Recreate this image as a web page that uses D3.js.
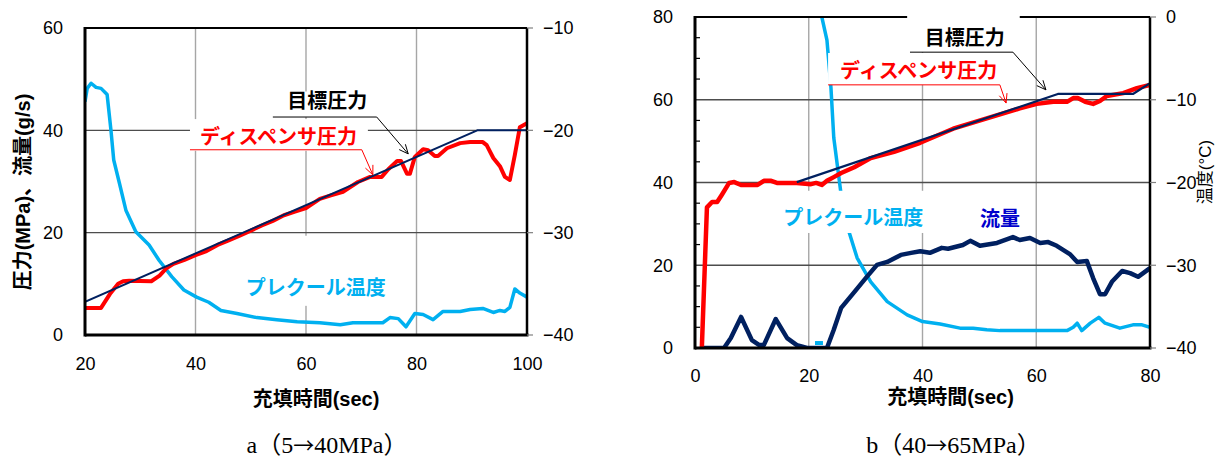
<!DOCTYPE html>
<html><head><meta charset="utf-8">
<script src="https://cdn.jsdelivr.net/npm/d3@7"></script>
<style>
html,body{margin:0;padding:0;background:#fff;}
svg{display:block;font-family:"Liberation Sans","Noto Sans CJK JP",sans-serif;}
</style></head>
<body>
<svg id="chart" width="1223" height="461"></svg>
<script>
// ---------------- DATA ----------------
// Chart a (5→40MPa)
const xTicksA = [20, 40, 60, 80, 100];
const yTicksA = [0, 20, 40, 60];
const tTicksA = [-40, -30, -20, -10];
const targetA = [[20,6.5],[91,40],[100,40]];
const dispenserA = [[20,5.3],[22.9,5.3],[24.5,8],[26,10],[26.9,10.5],[28,10.6],[32,10.5],[33.5,11.6],[34.8,13.1],[36,13.9],[38,14.7],[40,15.6],[42,16.4],[44,17.6],[46,18.5],[48,19.4],[50,20.4],[52,21.4],[54,22.3],[56,23.4],[58,24.1],[60,24.8],[62.5,26.6],[64.5,27.3],[66.7,28],[69.4,29.9],[71.6,30.9],[73.7,30.9],[74.9,32.4],[76.5,34],[77.2,34],[78.3,31.5],[78.8,31.5],[79.7,34.8],[81.2,36.3],[82.1,36.1],[83.3,35],[83.9,35],[85.5,36.5],[87.9,37.5],[89.7,37.7],[92,37.7],[92.7,37.1],[93.9,34.6],[95.1,33],[96,30.9],[96.9,30.3],[97.8,35.2],[98.7,40.6],[100,41.4]];
const tempA = [[20,-17.2],[20.4,-15.9],[21.1,-15.4],[22,-15.8],[22.9,-15.9],[24,-16.5],[24.7,-20],[25.2,-22.9],[26.2,-25.1],[27.4,-27.8],[29.2,-29.9],[31.6,-31.2],[33.4,-32.7],[35.7,-34.3],[37.9,-35.6],[40.2,-36.3],[42.4,-36.8],[44.6,-37.6],[47.5,-37.9],[51.1,-38.3],[54.7,-38.5],[58.4,-38.7],[62.5,-38.8],[66.2,-39],[68.5,-38.8],[71,-38.8],[73.9,-38.8],[75.2,-38.3],[76.7,-38.4],[78.1,-39.2],[79.7,-37.9],[81.2,-38],[83,-38.5],[84.8,-37.7],[87.9,-37.7],[89.7,-37.5],[92,-37.4],[93.9,-37.8],[95.1,-37.6],[96,-37.7],[96.9,-37.3],[97.8,-35.5],[98.7,-35.9],[100,-36.3]];

// Chart b (40→65MPa)
const xTicksB = [0, 20, 40, 60, 80];
const yTicksB = [0, 20, 40, 60, 80];
const yMinorB = [5,10,15,25,30,35,45,50,55,65,70,75];
const tTicksB = [-40, -30, -20, -10, 0];
const targetB = [[17.9,40.1],[63.8,61.4],[77,61.4],[80,64]];
const dispenserB = [[1.2,0],[2.1,34],[3,35.3],[3.9,35.3],[4.7,37],[6,39.9],[6.9,40.1],[8.1,39.4],[11,39.4],[12.1,40.4],[13.4,40.4],[14.4,39.9],[17.9,39.9],[20.4,39.6],[21.3,39.9],[22.3,39.4],[23.2,40.4],[24.4,41.3],[25.7,42.3],[28,43.7],[30.9,45.9],[35,47.4],[39.6,49.6],[45.4,53.0],[51.3,55.5],[57.1,57.9],[60.1,59],[63,59.5],[65.4,59.5],[66.5,60.4],[67.3,60.4],[68.6,59.5],[70,59],[71.2,59.7],[72.4,60.9],[75.3,61.6],[77.7,62.8],[80,63.6]];
const flowB = [[1,0],[5.1,0],[6.3,2.4],[8.1,7.5],[10,1.9],[11.3,0.7],[12.1,0.7],[14.2,7],[16.2,2.4],[17.9,0.7],[19.7,0],[23.2,0],[24.4,4.4],[25.7,9.7],[28,13.5],[30.2,17.2],[32,20.1],[33.8,20.8],[36.2,22.5],[38,23],[39.6,23.4],[41.3,23],[43.4,24.2],[44.5,24],[47.1,24.9],[48.4,25.9],[50.1,24.7],[53.1,25.4],[55.9,26.8],[57.1,26.1],[58.9,26.6],[60.7,25.4],[62.1,25.6],[63.6,24.7],[65.9,22.7],[67.2,20.8],[68.9,21],[70,16.9],[71.2,13],[72.1,13],[73.3,16],[75.1,18.6],[76.5,18.1],[77.9,17.2],[80,19.3]];
const tempBStart = [[21.1,-39.4],[22.5,-39.4]];
const tempB = [[22.0,1.5],[22.3,0],[23.2,-2.8],[23.9,-8.5],[24.4,-14.6],[25.7,-21.5],[27.1,-26],[28.5,-29.1],[30.9,-32],[33.8,-34.4],[37.3,-36],[40,-36.8],[43.1,-37.1],[46.6,-37.6],[48.9,-37.6],[51.3,-37.8],[53.6,-37.9],[65.4,-37.9],[66.5,-37.5],[67.2,-37],[68,-37.9],[69.5,-37],[71,-36.3],[72.1,-37],[74.7,-37.6],[77,-37.2],[78.6,-37.2],[80,-37.5]];

// Text
const labelTarget = "目標圧力";
const labelDispenser = "ディスペンサ圧力";
const labelTemp = "プレクール温度";
const labelFlow = "流量";
const xTitle = "充填時間(sec)";
const yTitleA = "圧力(MPa)、流量(g/s)";
const yTitleB = "温度(°C)";
const captionA = "a（5→40MPa）";
const captionB = "b（40→65MPa）";

// ---------------- LAYOUT ----------------
const C = {red:"#ff0000", navy:"#002060", cyan:"#00b0f0", blue:"#0000cc"};
const svg = d3.select("#chart");
svg.append("rect").attr("width",1223).attr("height",461).attr("fill","#fff");

function arrowHead(g, x1, y1, x2, y2, color){
  const ang = Math.atan2(y2-y1, x2-x1), L = 10, a = 0.42;
  g.append("path").attr("fill","none").attr("stroke",color).attr("stroke-width",1)
    .attr("d", `M${x2-L*Math.cos(ang-a)},${y2-L*Math.sin(ang-a)}L${x2},${y2}L${x2-L*Math.cos(ang+a)},${y2-L*Math.sin(ang+a)}`);
}

function drawPanel(cfg){
  const g = svg.append("g");
  const x = d3.scaleLinear().domain(cfg.xDom).range([cfg.left, cfg.right]);
  const y = d3.scaleLinear().domain(cfg.yDom).range([cfg.bottom, cfg.top]);
  const t = d3.scaleLinear().domain(cfg.tDom).range([cfg.bottom, cfg.top]);
  const id = "clip"+cfg.name;
  svg.append("clipPath").attr("id",id).append("rect")
    .attr("x",cfg.left).attr("y",cfg.top).attr("width",cfg.right-cfg.left).attr("height",cfg.bottom-cfg.top);

  // gridlines
  g.selectAll(".vg").data(cfg.xTicks.filter(d=>d!==cfg.xDom[0] && d!==cfg.xDom[1])).join("line")
    .attr("x1",d=>x(d)).attr("x2",d=>x(d)).attr("y1",cfg.top).attr("y2",cfg.bottom)
    .attr("stroke","#a6a6a6").attr("stroke-width",1.4);
  g.selectAll(".hg").data(cfg.yTicks.filter(d=>d!==cfg.yDom[0] && d!==cfg.yDom[1])).join("line")
    .attr("x1",cfg.left).attr("x2",cfg.right).attr("y1",d=>y(d)).attr("y2",d=>y(d))
    .attr("stroke","#4d4d4d").attr("stroke-width",1.4);

  // boxes under series
  (cfg.boxesUnder||[]).forEach(b=>{
    g.append("rect").attr("x",x(b[0])).attr("y",y(b[3])).attr("width",x(b[1])-x(b[0])).attr("height",y(b[2])-y(b[3])).attr("fill","#fff");
  });

  const lg = g.append("g").attr("clip-path",`url(#${id})`);
  const lineP = d3.line().x(d=>x(d[0])).y(d=>y(d[1]));
  const lineT = d3.line().x(d=>x(d[0])).y(d=>t(d[1]));
  cfg.series.forEach(s=>{
    lg.append("path").datum(s.data).attr("fill","none").attr("stroke",s.color)
      .attr("stroke-width",s.width).attr("stroke-linejoin","round").attr("stroke-linecap",s.cap||"butt")
      .attr("d", s.axis==="t" ? lineT : lineP);
  });

  // frame
  g.append("line").attr("x1",cfg.left).attr("x2",cfg.right).attr("y1",cfg.top).attr("y2",cfg.top).attr("stroke","#000").attr("stroke-width",2.2);
  g.append("line").attr("x1",cfg.right).attr("x2",cfg.right).attr("y1",cfg.top).attr("y2",cfg.bottom).attr("stroke","#000").attr("stroke-width",2.5);
  g.append("line").attr("x1",cfg.left).attr("x2",cfg.left).attr("y1",cfg.top-1).attr("y2",cfg.bottom+1.5).attr("stroke","#000").attr("stroke-width",3);
  g.append("line").attr("x1",cfg.left).attr("x2",cfg.right+1.5).attr("y1",cfg.bottom).attr("y2",cfg.bottom).attr("stroke","#000").attr("stroke-width",3);
  if(cfg.yMinor){
    g.selectAll(".mt").data(cfg.yMinor).join("line")
      .attr("x1",cfg.left).attr("x2",cfg.left+5).attr("y1",d=>y(d)).attr("y2",d=>y(d))
      .attr("stroke","#000").attr("stroke-width",1.2);
  }
  // right ticks outward
  g.selectAll(".rt").data(cfg.tTicks).join("line")
    .attr("x1",cfg.right).attr("x2",cfg.right+6).attr("y1",d=>t(d)).attr("y2",d=>t(d))
    .attr("stroke","#808080").attr("stroke-width",1.2);

  // axes text
  const fmt = d3.format("d");
  const ax = g.append("g").attr("transform",`translate(0,${cfg.bottom})`)
    .call(d3.axisBottom(x).tickValues(cfg.xTicks).tickSize(0).tickPadding(cfg.xPad).tickFormat(fmt));
  const ay = g.append("g").attr("transform",`translate(${cfg.left},0)`)
    .call(d3.axisLeft(y).tickValues(cfg.yTicks).tickSize(0).tickPadding(22).tickFormat(fmt));
  const at = g.append("g").attr("transform",`translate(${cfg.right},0)`)
    .call(d3.axisRight(t).tickValues(cfg.tTicks).tickSize(0).tickPadding(16).tickFormat(fmt));
  [ax,ay,at].forEach(a=>{
    a.select(".domain").remove();
    a.attr("font-family","Liberation Sans, Arial, sans-serif").attr("font-size",18);
    a.selectAll("text").attr("fill","#000");
  });

  // boxes over series
  (cfg.boxesOver||[]).forEach(b=>{
    g.append("rect").attr("x",x(b[0])).attr("y",y(b[3])).attr("width",x(b[1])-x(b[0])).attr("height",y(b[2])-y(b[3])).attr("fill","#fff");
  });

  // leaders
  (cfg.leaders||[]).forEach(l=>{
    const pts = l.pts.map(p=>[x(p[0]), y(p[1])]);
    g.append("path").attr("fill","none").attr("stroke",l.color).attr("stroke-width",1)
      .attr("d", d3.line()(pts));
    const n = pts.length;
    arrowHead(g, pts[n-2][0], pts[n-2][1], pts[n-1][0], pts[n-1][1], l.color);
  });
  // labels
  (cfg.labels||[]).forEach(lb=>{
    g.append("text").attr("x",x(lb.at[0])).attr("y",y(lb.at[1])).text(lb.text)
      .attr("fill",lb.color).attr("font-size",20).attr("font-weight","bold")
      .attr("font-family","Noto Sans CJK JP, sans-serif");
  });

  // titles
  g.append("text").attr("x",(cfg.left+cfg.right)/2+cfg.xTitleDx).attr("y",cfg.xTitleY).attr("text-anchor","middle")
    .attr("font-size",20).attr("font-weight","bold").text(xTitle);
  const cap = g.append("text").attr("x",(cfg.left+cfg.right)/2+cfg.capDx).attr("y",cfg.capY).attr("text-anchor","middle")
    .attr("font-size",24).attr("font-family","Liberation Serif, DejaVu Serif, Noto Sans CJK JP, serif");
  const parts = cfg.caption.split("→");
  cap.append("tspan").text(parts[0]);
  cap.append("tspan").attr("font-family","Noto Sans CJK JP, sans-serif").attr("font-size",21).text("→");
  cap.append("tspan").text(parts[1]);
  return {g,x,y,t};
}

const A = drawPanel({
  name:"A", left:85, right:527, top:28, bottom:335,
  xDom:[20,100], yDom:[0,60], tDom:[-40,-10],
  xTicks:xTicksA, yTicks:yTicksA, tTicks:tTicksA, xPad:22,
  series:[
    {data:tempA, axis:"t", color:C.cyan, width:3.5},
    {data:dispenserA, axis:"y", color:C.red, width:4},
    {data:targetA, axis:"y", color:C.navy, width:2}
  ],
  boxesUnder:[[48.0,76.1,5.7,19.4]],
  boxesOver:[[54.0,73.4,42.6,47.6],[39.0,71.2,36.0,42.2]],
  leaders:[
    {color:"#000", pts:[[54.0,42.6],[72.8,42.6],[78.5,35.4]]},
    {color:C.red, pts:[[39.0,36.2],[70.1,36.2],[72.1,31.3]]}
  ],
  labels:[
    {text:labelTarget, at:[56.6,44.4], color:"#000"},
    {text:labelDispenser, at:[40.8,37.3], color:C.red},
    {text:labelTemp, at:[49.1,7.8], color:C.cyan}
  ],
  xTitleY:406, xTitleDx:10, caption:captionA, capY:453, capDx:21
});
A.g.append("text").attr("transform","translate(30,192) rotate(-90)").attr("text-anchor","middle")
  .attr("font-size",20).attr("font-weight","bold").text(yTitleA);

const B = drawPanel({
  name:"B", left:695, right:1150, top:17, bottom:348,
  xDom:[0,80], yDom:[0,80], tDom:[-40,0],
  xTicks:xTicksB, yTicks:yTicksB, tTicks:tTicksB, yMinor:yMinorB, xPad:21,
  series:[
    {data:tempBStart, axis:"t", color:C.cyan, width:4},
    {data:tempB, axis:"t", color:C.cyan, width:3.5},
    {data:flowB, axis:"y", color:C.navy, width:4.5},
    {data:dispenserB, axis:"y", color:C.red, width:4.5},
    {data:targetB, axis:"y", color:C.navy, width:2.2}
  ],
  boxesOver:[[37.3,57.1,71.5,80.9],[23.4,53.6,63.6,71.3],[14.6,41.0,27.8,38.0]],
  leaders:[
    {color:"#000", pts:[[37.8,71.5],[55.9,71.5],[61.7,62.4]]},
    {color:C.red, pts:[[23.4,63.6],[53.6,63.6],[54.7,59.2]]}
  ],
  labels:[
    {text:labelTarget, at:[40.4,73.2], color:"#000"},
    {text:labelDispenser, at:[25.5,65.2], color:C.red},
    {text:labelTemp, at:[15.5,29.7], color:C.cyan},
    {text:labelFlow, at:[50.1,29.4], color:C.blue}
  ],
  xTitleY:404, xTitleDx:28, caption:captionB, capY:453, capDx:31
});
B.g.append("text").attr("transform","translate(1211,172) rotate(-90)").attr("text-anchor","middle")
  .attr("font-size",17).text(yTitleB);
</script>
</body></html>
